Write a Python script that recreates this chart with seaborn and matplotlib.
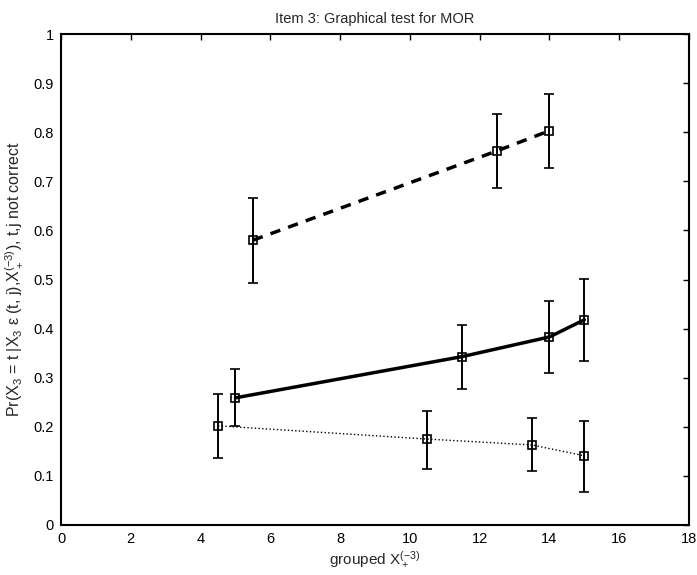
import numpy as np
import pandas as pd
import seaborn as sns
import matplotlib.pyplot as plt

# data
dashed_x = [5.5, 12.5, 14.0]
dashed_y = [0.580, 0.762, 0.803]
dashed_lo = [0.493, 0.686, 0.728]
dashed_hi = [0.667, 0.837, 0.878]

solid_x = [5.0, 11.5, 14.0, 15.0]
solid_y = [0.259, 0.343, 0.383, 0.418]
solid_lo = [0.202, 0.278, 0.310, 0.333]
solid_hi = [0.317, 0.407, 0.456, 0.501]

dotted_x = [4.5, 10.5, 13.5, 15.0]
dotted_y = [0.202, 0.175, 0.163, 0.141]
dotted_lo = [0.137, 0.115, 0.109, 0.068]
dotted_hi = [0.266, 0.233, 0.217, 0.212]

x_ticks = [0, 2, 4, 6, 8, 10, 12, 14, 16, 18]
y_ticks = [0, 0.1, 0.2, 0.3, 0.4, 0.5, 0.6, 0.7, 0.8, 0.9, 1]
y_ticklabels = ["0", "0.1", "0.2", "0.3", "0.4", "0.5", "0.6", "0.7", "0.8", "0.9", "1"]

sns.set_theme(style="white")
plt.rcParams["font.family"] = ["Liberation Sans", "DejaVu Sans"]
plt.rcParams["mathtext.default"] = "regular"
plt.rcParams["mathtext.fontset"] = "custom"
plt.rcParams["mathtext.rm"] = "Liberation Sans"

series = [
    ("dashed", dashed_x, dashed_y, dashed_lo, dashed_hi, (0, (3, 2.4)), 2.5),
    ("solid", solid_x, solid_y, solid_lo, solid_hi, "-", 2.5),
    ("dotted", dotted_x, dotted_y, dotted_lo, dotted_hi, ":", 1.0),
]

frames = []
for name, xs, ys, lo, hi, _ls, _lw in series:
    frames.append(pd.DataFrame({"series": name, "x": xs, "y": ys, "lo": lo, "hi": hi}))
df = pd.concat(frames, ignore_index=True)

fig = plt.figure(figsize=(6.97, 5.75), dpi=100)
ax = fig.add_axes([61 / 697, 1 - 525 / 575, 628 / 697, 491 / 575])

for name, _xs, _ys, _lo, _hi, ls, lw in series:
    sub = df[df["series"] == name]
    ax.errorbar(sub["x"], sub["y"],
                yerr=[sub["y"] - sub["lo"], sub["hi"] - sub["y"]],
                fmt="none", ecolor="black", elinewidth=1.4, capsize=3.5,
                capthick=1.2, zorder=2)
    sns.lineplot(data=sub, x="x", y="y", ax=ax, color="black", linestyle=ls,
                 linewidth=lw, marker="s", markersize=6, markerfacecolor="none",
                 markeredgecolor="black", markeredgewidth=1.2, zorder=3,
                 legend=False)

ax.set_xlim(0, 18)
ax.set_ylim(0, 1)
ax.set_xticks(x_ticks)
ax.set_yticks(y_ticks)
ax.set_yticklabels(y_ticklabels)
ax.tick_params(direction="in", length=4, width=1, top=True, right=True,
               labelsize=10.5, colors="black", pad=5)
for sp in ax.spines.values():
    sp.set_color("black")
    sp.set_linewidth(1.5)

ax.set_title("Item 3: Graphical test for MOR", fontsize=10.5, pad=8)
ax.set_xlabel("grouped X$_+^{(-3)}$", fontsize=11, labelpad=2)
ax.set_ylabel("Pr(X$_3$ = t |X$_3$ ε (t, j),X$_+^{(-3)}$), t,j not correct",
              fontsize=11.5, labelpad=6)

fig.savefig("out.png", dpi=100)
